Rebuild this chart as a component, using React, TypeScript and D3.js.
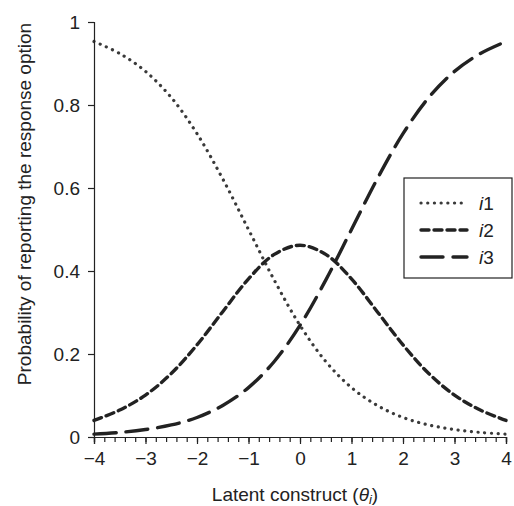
import { useEffect, useRef } from "react";
import * as d3 from "d3";

// theta grid and the three category curves
const thetas = [-4, -3.5, -3, -2.5, -2, -1.5, -1, -0.5, 0, 0.5, 1, 1.5, 2, 2.5, 3, 3.5, 4];
const i1 = [0.953, 0.924, 0.881, 0.818, 0.731, 0.622, 0.5, 0.378, 0.269, 0.182, 0.119, 0.076, 0.047, 0.029, 0.018, 0.011, 0.007];
const i2 = [0.04, 0.065, 0.101, 0.153, 0.222, 0.302, 0.381, 0.44, 0.462, 0.44, 0.381, 0.302, 0.222, 0.153, 0.101, 0.065, 0.04];
const i3 = [0.007, 0.011, 0.018, 0.029, 0.047, 0.076, 0.119, 0.182, 0.269, 0.378, 0.5, 0.622, 0.731, 0.818, 0.881, 0.924, 0.953];
const seriesNames = ["1", "2", "3"];
const xTicks = [-4, -3, -2, -1, 0, 1, 2, 3, 4];
const yTicks = [0, 0.2, 0.4, 0.6, 0.8, 1];

const W = 514;
const H = 506;
const FONT = "'Liberation Sans', Arial, sans-serif";

const styles = [
  { dash: "0.1 6.6", width: 3.2, color: "#3a3a3a" },
  { dash: "8 5", width: 3.4, color: "#222" },
  { dash: "22 10", width: 3.4, color: "#222" },
];

export default function App() {
  const svgRef = useRef<SVGSVGElement | null>(null);

  useEffect(() => {
    const svg = d3.select(svgRef.current);
    svg.selectAll("*").remove();

    const x = d3.scaleLinear().domain([-4, 4]).range([94, 506]);
    const y = d3.scaleLinear().domain([0, 1]).range([437, 22]);

    svg.append("rect").attr("width", W).attr("height", H).attr("fill", "#fff");

    // curves
    const all = [i1, i2, i3];
    const line = d3
      .line<number>()
      .x((_, i) => x(thetas[i]))
      .y((d) => y(d))
      .curve(d3.curveCatmullRom.alpha(0.5));

    all.forEach((vals, k) => {
      svg
        .append("path")
        .attr("d", line(vals))
        .attr("fill", "none")
        .attr("stroke", styles[k].color)
        .attr("stroke-width", styles[k].width)
        .attr("stroke-dasharray", styles[k].dash)
        .attr("stroke-linecap", "round");
    });

    // y axis
    const yAxis = d3
      .axisLeft(y)
      .tickValues(yTicks)
      .tickSize(6)
      .tickPadding(8)
      .tickFormat((d) => String(d));
    const gy = svg.append("g").attr("transform", `translate(${x(-4)},0)`).call(yAxis);
    gy.select(".domain").attr("stroke", "#222").attr("stroke-width", 1.2);
    gy.selectAll(".tick line").attr("stroke", "#222").attr("stroke-width", 1.2);
    gy.selectAll("text").attr("font-family", FONT).attr("font-size", 19).attr("fill", "#222");

    // x axis: minor ticks every 0.2, labelled majors
    const gx = svg.append("g").attr("transform", `translate(0,${y(0)})`);
    gx.call(
      d3
        .axisBottom(x)
        .tickValues(d3.range(-4, 4.001, 0.2))
        .tickSize(5)
        .tickFormat(() => "")
    );
    gx.append("g").call(
      d3.axisBottom(x).tickValues(xTicks).tickSize(7).tickPadding(8)
    );
    gx.selectAll(".domain").attr("stroke", "#222").attr("stroke-width", 1.2);
    gx.selectAll(".tick line").attr("stroke", "#222").attr("stroke-width", 1.2);
    gx.selectAll("text").attr("font-family", FONT).attr("font-size", 19).attr("fill", "#222");

    // axis titles
    svg
      .append("text")
      .attr("transform", `translate(31,204) rotate(-90)`)
      .attr("text-anchor", "middle")
      .attr("font-family", FONT)
      .attr("font-size", 19)
      .attr("fill", "#222")
      .text("Probability of reporting the response option");

    const xt = svg
      .append("text")
      .attr("x", 295)
      .attr("y", 501)
      .attr("text-anchor", "middle")
      .attr("font-family", FONT)
      .attr("font-size", 19)
      .attr("fill", "#222");
    xt.append("tspan").text("Latent construct (");
    xt.append("tspan").attr("font-style", "italic").text("θ");
    xt.append("tspan").attr("font-style", "italic").attr("font-size", 13).attr("dy", 3).text("i");
    xt.append("tspan").attr("dy", -3).text(")");

    // legend
    const lg = svg.append("g");
    lg.append("rect")
      .attr("x", 404)
      .attr("y", 178)
      .attr("width", 108)
      .attr("height", 100)
      .attr("fill", "#fff")
      .attr("stroke", "#222")
      .attr("stroke-width", 1.2);
    seriesNames.forEach((name, k) => {
      const yy = 203 + k * 27;
      lg.append("line")
        .attr("x1", 421)
        .attr("x2", 467)
        .attr("y1", yy)
        .attr("y2", yy)
        .attr("stroke", styles[k].color)
        .attr("stroke-width", styles[k].width)
        .attr("stroke-dasharray", styles[k].dash)
        .attr("stroke-linecap", "round");
      const t = lg
        .append("text")
        .attr("x", 479)
        .attr("y", yy + 7)
        .attr("font-family", FONT)
        .attr("font-size", 19)
        .attr("fill", "#222");
      t.append("tspan").attr("font-style", "italic").text("i");
      t.append("tspan").text(name);
    });
  }, []);

  return (
    <svg
      ref={svgRef}
      width={W}
      height={H}
      style={{ position: "absolute", left: 0, top: 0, display: "block" }}
    />
  );
}
